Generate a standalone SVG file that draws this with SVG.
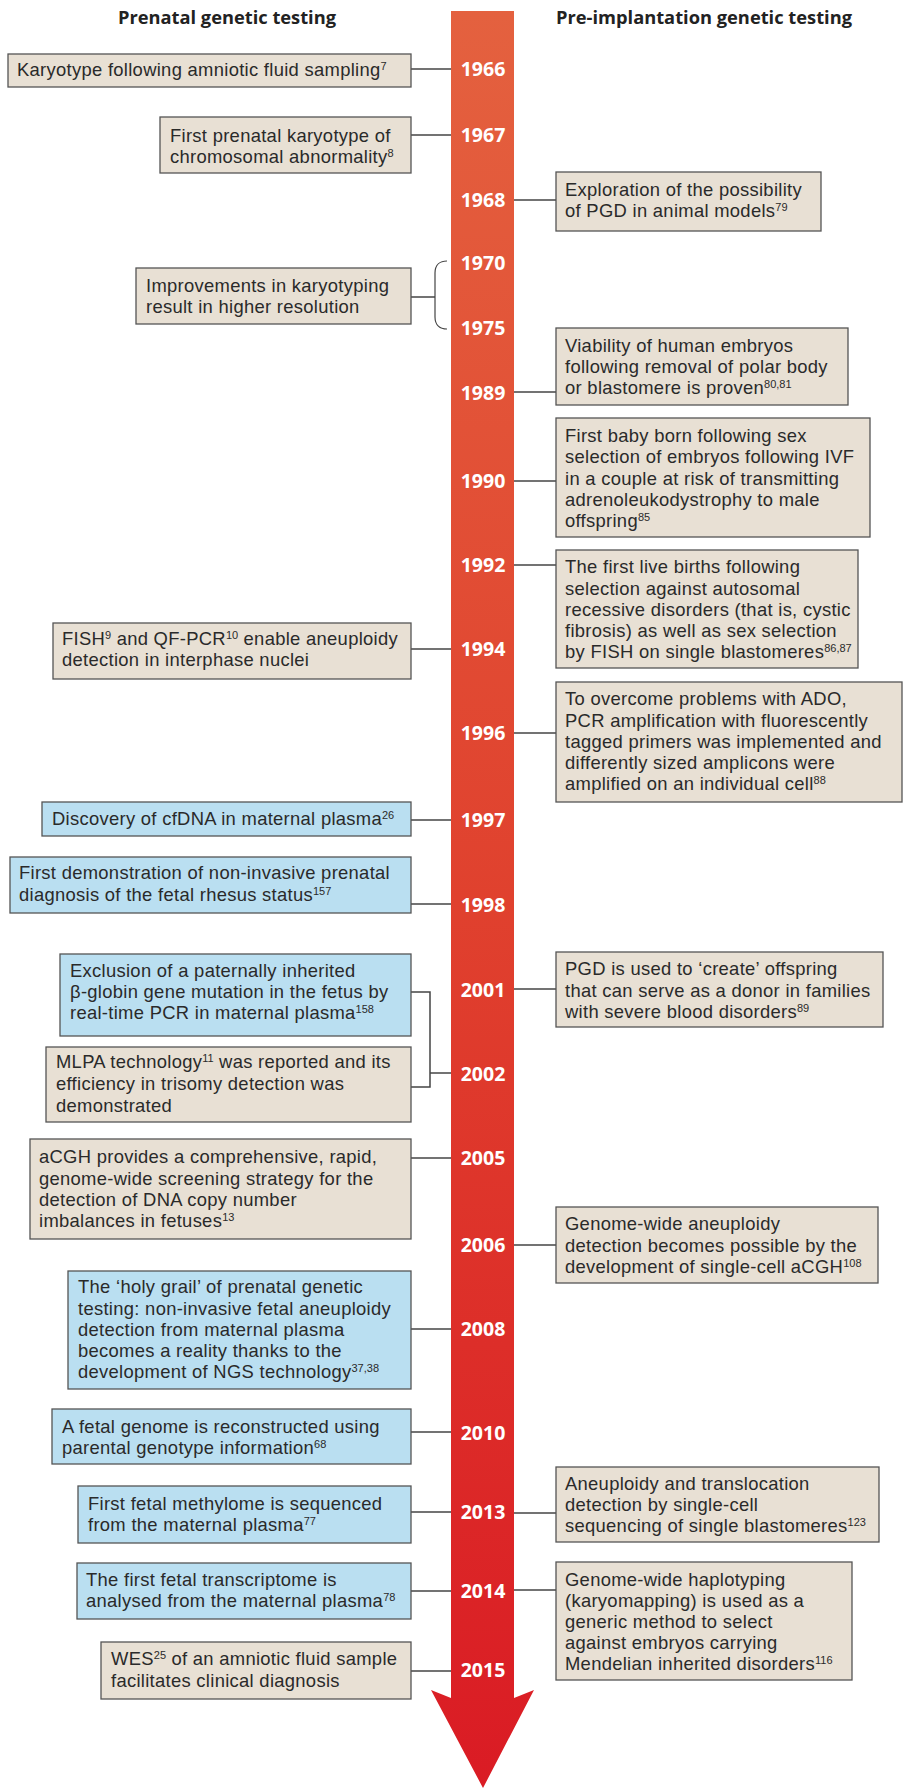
<svg xmlns="http://www.w3.org/2000/svg" width="903" height="1789" viewBox="0 0 903 1789">
<defs>
<linearGradient id="barg" gradientUnits="userSpaceOnUse" x1="0" y1="11" x2="0" y2="1788">
<stop offset="0" stop-color="#E4613F"/>
<stop offset="0.5" stop-color="#E0412E"/>
<stop offset="1" stop-color="#DA1B24"/>
</linearGradient>
</defs>
<style>
.b{fill:#E8E0D4;stroke:#555;stroke-width:1.3}
.bl{fill:#BADFF1;stroke:#555;stroke-width:1.3}
.t{font-family:"Liberation Sans",Arial,sans-serif;font-size:18.4px;letter-spacing:0.3px;fill:#2a2a2a}
.s{font-size:11px;letter-spacing:0}
.y{font-family:"Open Sans","Liberation Sans",sans-serif;font-size:19.5px;font-weight:700;fill:#fff;text-anchor:middle}
.h{font-family:"Open Sans","Liberation Sans",sans-serif;font-size:17px;font-weight:700;fill:#222;text-anchor:middle}
.c{fill:none;stroke:#444;stroke-width:1.5}
</style>
<rect width="903" height="1789" fill="#fff"/>
<text class="h" x="227" y="24" textLength="218" lengthAdjust="spacingAndGlyphs">Prenatal genetic testing</text>
<text class="h" x="704" y="24" textLength="296" lengthAdjust="spacingAndGlyphs">Pre-implantation genetic testing</text>

<g id="timeline">
<path d="M451,11 H514 V1698 L534,1690 L483,1788 L431,1690 L451,1698 Z" fill="url(#barg)"/>
<text class="y" x="483" y="76">1966</text>
<text class="y" x="483" y="142">1967</text>
<text class="y" x="483" y="207">1968</text>
<text class="y" x="483" y="270">1970</text>
<text class="y" x="483" y="335">1975</text>
<text class="y" x="483" y="400">1989</text>
<text class="y" x="483" y="488">1990</text>
<text class="y" x="483" y="572">1992</text>
<text class="y" x="483" y="656">1994</text>
<text class="y" x="483" y="740">1996</text>
<text class="y" x="483" y="827">1997</text>
<text class="y" x="483" y="912">1998</text>
<text class="y" x="483" y="997">2001</text>
<text class="y" x="483" y="1081">2002</text>
<text class="y" x="483" y="1165">2005</text>
<text class="y" x="483" y="1252">2006</text>
<text class="y" x="483" y="1336">2008</text>
<text class="y" x="483" y="1440">2010</text>
<text class="y" x="483" y="1519">2013</text>
<text class="y" x="483" y="1598">2014</text>
<text class="y" x="483" y="1677">2015</text>
</g>

<g id="connectors">
<path class="c" d="M411,69 H451"/>
<path class="c" d="M411,135 H451"/>
<path class="c" d="M514,200 H556"/>
<path class="c" d="M411,297 H435"/>
<path class="c" d="M447,261 C440,261 435,265 435,273 V317 C435,325 440,329 447,329" style="stroke-width:1.2"/>
<path class="c" d="M514,392 H556"/>
<path class="c" d="M514,481 H556"/>
<path class="c" d="M514,565 H556"/>
<path class="c" d="M411,649 H451"/>
<path class="c" d="M514,733 H556"/>
<path class="c" d="M411,820 H451"/>
<path class="c" d="M411,904 H451"/>
<path class="c" d="M411,992 H430 V1087 H411"/>
<path class="c" d="M430,1073 H451"/>
<path class="c" d="M514,989 H556"/>
<path class="c" d="M411,1158 H451"/>
<path class="c" d="M514,1245 H556"/>
<path class="c" d="M411,1329 H451"/>
<path class="c" d="M411,1432 H451"/>
<path class="c" d="M411,1512 H451"/>
<path class="c" d="M514,1513 H556"/>
<path class="c" d="M411,1591 H451"/>
<path class="c" d="M514,1590 H556"/>
<path class="c" d="M411,1671 H451"/>
</g>

<g id="n1966"><rect class="b" x="8" y="54" width="403" height="33"/>
<text class="t" x="17" y="76">Karyotype following amniotic fluid sampling<tspan class="s" dy="-6.5">7</tspan></text></g>

<g id="n1967"><rect class="b" x="160" y="117" width="251" height="56"/>
<text class="t" x="170" y="142">First prenatal karyotype of</text>
<text class="t" x="170" y="163">chromosomal abnormality<tspan class="s" dy="-6.5">8</tspan></text></g>

<g id="n1968"><rect class="b" x="556" y="172" width="265" height="59"/>
<text class="t" x="565" y="196">Exploration of the possibility</text>
<text class="t" x="565" y="217">of PGD in animal models<tspan class="s" dy="-6.5">79</tspan></text></g>

<g id="n1970"><rect class="b" x="136" y="268" width="275" height="56"/>
<text class="t" x="146" y="292">Improvements in karyotyping</text>
<text class="t" x="146" y="313">result in higher resolution</text></g>

<g id="n1989"><rect class="b" x="556" y="328" width="292" height="77"/>
<text class="t" x="565" y="352">Viability of human embryos</text>
<text class="t" x="565" y="373">following removal of polar body</text>
<text class="t" x="565" y="394">or blastomere is proven<tspan class="s" dy="-6.5">80,81</tspan></text></g>

<g id="n1990"><rect class="b" x="556" y="418" width="314" height="119"/>
<text class="t" x="565" y="442">First baby born following sex</text>
<text class="t" x="565" y="463">selection of embryos following IVF</text>
<text class="t" x="565" y="485">in a couple at risk of transmitting</text>
<text class="t" x="565" y="506">adrenoleukodystrophy to male</text>
<text class="t" x="565" y="527">offspring<tspan class="s" dy="-6.5">85</tspan></text></g>

<g id="n1992"><rect class="b" x="556" y="550" width="302" height="118"/>
<text class="t" x="565" y="573">The first live births following</text>
<text class="t" x="565" y="595">selection against autosomal</text>
<text class="t" x="565" y="616">recessive disorders (that is, cystic</text>
<text class="t" x="565" y="637">fibrosis) as well as sex selection</text>
<text class="t" x="565" y="658">by FISH on single blastomeres<tspan class="s" dy="-6.5">86,87</tspan></text></g>

<g id="n1994"><rect class="b" x="53" y="623" width="358" height="56"/>
<text class="t" x="62" y="645">FISH<tspan class="s" dy="-6.5">9</tspan><tspan dy="6.5"> and QF-PCR</tspan><tspan class="s" dy="-6.5">10</tspan><tspan dy="6.5"> enable aneuploidy</tspan></text>
<text class="t" x="62" y="666">detection in interphase nuclei</text></g>

<g id="n1996"><rect class="b" x="556" y="682" width="346" height="120"/>
<text class="t" x="565" y="705">To overcome problems with ADO,</text>
<text class="t" x="565" y="727">PCR amplification with fluorescently</text>
<text class="t" x="565" y="748">tagged primers was implemented and</text>
<text class="t" x="565" y="769">differently sized amplicons were</text>
<text class="t" x="565" y="790">amplified on an individual cell<tspan class="s" dy="-6.5">88</tspan></text></g>

<g id="n1997"><rect class="bl" x="42" y="802" width="369" height="34"/>
<text class="t" x="52" y="825">Discovery of cfDNA in maternal plasma<tspan class="s" dy="-6.5">26</tspan></text></g>

<g id="n1998"><rect class="bl" x="10" y="857" width="401" height="56"/>
<text class="t" x="19" y="879">First demonstration of non-invasive prenatal</text>
<text class="t" x="19" y="901">diagnosis of the fetal rhesus status<tspan class="s" dy="-6.5">157</tspan></text></g>

<g id="n2001a"><rect class="bl" x="60" y="954" width="351" height="82"/>
<text class="t" x="70" y="977">Exclusion of a paternally inherited</text>
<text class="t" x="70" y="998">β-globin gene mutation in the fetus by</text>
<text class="t" x="70" y="1019">real-time PCR in maternal plasma<tspan class="s" dy="-6.5">158</tspan></text></g>

<g id="n2001b"><rect class="b" x="556" y="952" width="327" height="75"/>
<text class="t" x="565" y="975">PGD is used to ‘create’ offspring</text>
<text class="t" x="565" y="997">that can serve as a donor in families</text>
<text class="t" x="565" y="1018">with severe blood disorders<tspan class="s" dy="-6.5">89</tspan></text></g>

<g id="n2002"><rect class="b" x="46" y="1047" width="365" height="75"/>
<text class="t" x="56" y="1068">MLPA technology<tspan class="s" dy="-6.5">11</tspan><tspan dy="6.5"> was reported and its</tspan></text>
<text class="t" x="56" y="1090">efficiency in trisomy detection was</text>
<text class="t" x="56" y="1112">demonstrated</text></g>

<g id="n2005"><rect class="b" x="30" y="1139" width="381" height="100"/>
<text class="t" x="39" y="1163">aCGH provides a comprehensive, rapid,</text>
<text class="t" x="39" y="1185">genome-wide screening strategy for the</text>
<text class="t" x="39" y="1206">detection of DNA copy number</text>
<text class="t" x="39" y="1227">imbalances in fetuses<tspan class="s" dy="-6.5">13</tspan></text></g>

<g id="n2006"><rect class="b" x="556" y="1207" width="322" height="76"/>
<text class="t" x="565" y="1230">Genome-wide aneuploidy</text>
<text class="t" x="565" y="1252">detection becomes possible by the</text>
<text class="t" x="565" y="1273">development of single-cell aCGH<tspan class="s" dy="-6.5">108</tspan></text></g>

<g id="n2008"><rect class="bl" x="68" y="1271" width="343" height="118"/>
<text class="t" x="78" y="1293">The ‘holy grail’ of prenatal genetic</text>
<text class="t" x="78" y="1315">testing: non-invasive fetal aneuploidy</text>
<text class="t" x="78" y="1336">detection from maternal plasma</text>
<text class="t" x="78" y="1357">becomes a reality thanks to the</text>
<text class="t" x="78" y="1378">development of NGS technology<tspan class="s" dy="-6.5">37,38</tspan></text></g>

<g id="n2010"><rect class="bl" x="52" y="1409" width="359" height="55"/>
<text class="t" x="62" y="1433">A fetal genome is reconstructed using</text>
<text class="t" x="62" y="1454">parental genotype information<tspan class="s" dy="-6.5">68</tspan></text></g>

<g id="n2013a"><rect class="bl" x="78" y="1486" width="333" height="57"/>
<text class="t" x="88" y="1510">First fetal methylome is sequenced</text>
<text class="t" x="88" y="1531">from the maternal plasma<tspan class="s" dy="-6.5">77</tspan></text></g>

<g id="n2013b"><rect class="b" x="556" y="1467" width="323" height="75"/>
<text class="t" x="565" y="1490">Aneuploidy and translocation</text>
<text class="t" x="565" y="1511">detection by single-cell</text>
<text class="t" x="565" y="1532">sequencing of single blastomeres<tspan class="s" dy="-6.5">123</tspan></text></g>

<g id="n2014a"><rect class="bl" x="77" y="1563" width="334" height="56"/>
<text class="t" x="86" y="1586">The first fetal transcriptome is</text>
<text class="t" x="86" y="1607">analysed from the maternal plasma<tspan class="s" dy="-6.5">78</tspan></text></g>

<g id="n2014b"><rect class="b" x="556" y="1562" width="296" height="118"/>
<text class="t" x="565" y="1586">Genome-wide haplotyping</text>
<text class="t" x="565" y="1607">(karyomapping) is used as a</text>
<text class="t" x="565" y="1628">generic method to select</text>
<text class="t" x="565" y="1649">against embryos carrying</text>
<text class="t" x="565" y="1670">Mendelian inherited disorders<tspan class="s" dy="-6.5">116</tspan></text></g>

<g id="n2015"><rect class="b" x="101" y="1642" width="310" height="57"/>
<text class="t" x="111" y="1665">WES<tspan class="s" dy="-6.5">25</tspan><tspan dy="6.5"> of an amniotic fluid sample</tspan></text>
<text class="t" x="111" y="1687">facilitates clinical diagnosis</text></g>
</svg>
